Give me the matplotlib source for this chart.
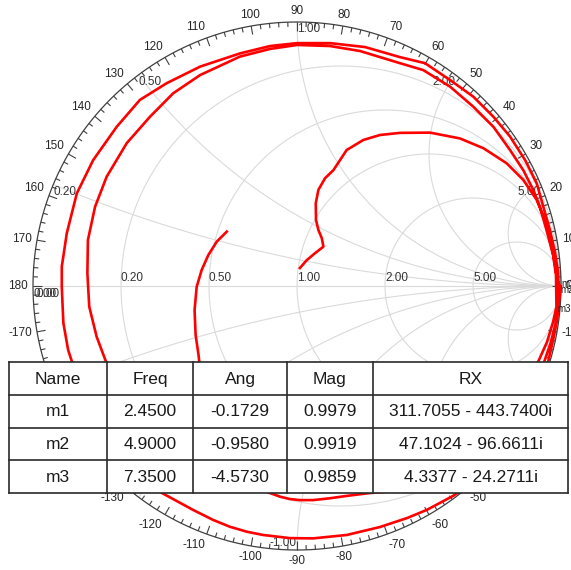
import numpy as np
import matplotlib.pyplot as plt
from matplotlib.patches import Rectangle
from matplotlib.collections import LineCollection

plt.rcParams["font.family"] = ["Liberation Sans", "DejaVu Sans"]

# Smith chart grid values
r_values = [0.2, 0.5, 1.0, 2.0, 5.0]
x_values = [0.2, 0.5, 1.0, 2.0, 5.0]

# S11 trace (reflection coefficient, re / im), split at the markers
sweep_start = [
    (0.011, 0.068), (0.037, 0.098), (0.068, 0.124), (0.100, 0.149), (0.094, 0.181),
    (0.081, 0.212), (0.072, 0.250), (0.071, 0.313), (0.081, 0.364), (0.106, 0.408),
    (0.138, 0.439), (0.188, 0.515), (0.251, 0.553), (0.314, 0.572), (0.390, 0.580),
    (0.504, 0.581), (0.617, 0.559), (0.706, 0.522), (0.794, 0.465), (0.857, 0.402),
    (0.908, 0.326), (0.939, 0.250), (0.962, 0.163), (0.977, 0.087), (0.985, 0.023),
]
sweep_loop2 = [
    (0.992, -0.053), (0.985, -0.129), (0.970, -0.205), (0.951, -0.288), (0.913, -0.413),
    (0.852, -0.538), (0.769, -0.652), (0.674, -0.742), (0.591, -0.795), (0.492, -0.848),
    (0.417, -0.879), (0.314, -0.913), (0.189, -0.943), (0.061, -0.956), (-0.027, -0.955),
    (-0.129, -0.943), (-0.189, -0.931), (-0.254, -0.912), (-0.318, -0.886), (-0.394, -0.848),
    (-0.462, -0.811), (-0.519, -0.780), (-0.614, -0.697), (-0.708, -0.591), (-0.784, -0.470),
    (-0.830, -0.375), (-0.852, -0.288), (-0.867, -0.242), (-0.885, -0.140), (-0.891, -0.004),
    (-0.891, 0.073), (-0.872, 0.200), (-0.834, 0.351), (-0.772, 0.477), (-0.683, 0.603),
    (-0.595, 0.705), (-0.494, 0.768), (-0.367, 0.831), (-0.216, 0.881), (-0.102, 0.909),
    (0.000, 0.920), (0.125, 0.920), (0.258, 0.905), (0.390, 0.867), (0.485, 0.844),
    (0.580, 0.780), (0.668, 0.717), (0.744, 0.641), (0.807, 0.566), (0.864, 0.477),
    (0.908, 0.389), (0.933, 0.300), (0.958, 0.212), (0.977, 0.129), (0.989, 0.053),
]
sweep_loop3 = [
    (0.992, -0.053), (0.981, -0.136), (0.962, -0.212), (0.936, -0.288), (0.883, -0.413),
    (0.799, -0.538), (0.693, -0.640), (0.561, -0.727), (0.428, -0.773), (0.277, -0.784),
    (0.189, -0.795), (0.125, -0.804), (0.061, -0.811), (0.011, -0.811), (-0.027, -0.807),
    (-0.064, -0.798), (-0.102, -0.784), (-0.216, -0.742), (-0.330, -0.697), (-0.462, -0.621),
    (-0.576, -0.527), (-0.663, -0.402), (-0.723, -0.288), (-0.759, -0.192), (-0.787, -0.078),
    (-0.794, 0.049), (-0.792, 0.174), (-0.765, 0.300), (-0.721, 0.414), (-0.645, 0.541),
    (-0.557, 0.641), (-0.469, 0.730), (-0.367, 0.799), (-0.216, 0.869), (-0.102, 0.898),
    (0.000, 0.913), (0.125, 0.909), (0.239, 0.890), (0.390, 0.844), (0.478, 0.818),
    (0.580, 0.755), (0.668, 0.679), (0.744, 0.603), (0.807, 0.515), (0.857, 0.439),
    (0.895, 0.364), (0.920, 0.300), (0.947, 0.205), (0.970, 0.117), (0.981, 0.042),
]
sweep_end = [
    (0.970, -0.136), (0.947, -0.212), (0.913, -0.288), (0.845, -0.402), (0.750, -0.508),
    (0.617, -0.610), (0.466, -0.689), (0.295, -0.735), (0.125, -0.758), (-0.027, -0.754),
    (-0.159, -0.716), (-0.261, -0.640), (-0.322, -0.527), (-0.352, -0.413), (-0.367, -0.318),
    (-0.373, -0.261), (-0.384, -0.186), (-0.388, -0.091), (-0.380, -0.003), (-0.361, 0.061),
    (-0.336, 0.117), (-0.304, 0.168), (-0.266, 0.206),
]

# marker table
marker_names = ["m1", "m2", "m3"]
marker_freq = [2.45, 4.90, 7.35]
marker_ang = [-0.1729, -0.9580, -4.5730]
marker_mag = [0.9979, 0.9919, 0.9859]
marker_rx_re = [311.7055, 47.1024, 4.3377]
marker_rx_im = [-443.7400, -96.6611, -24.2711]

angle_labels = list(range(-170, 190, 10))

GRID = "#dadada"
RED = "#ff0000"

W, H = 571, 570
CX, CY, R = 297.0, 286.0, 264.0
tx0, tx1, ty0, ty1 = 9, 568, 362, 493   # table box, pixels from top-left


def under_table(gx, gy):
    px, py = CX + R * gx, CY - R * gy
    return tx0 < px < tx1 and ty0 < py < ty1


fig = plt.figure(figsize=(W / 100, H / 100), dpi=100)
ax = fig.add_axes([0, 0, 1, 1])
ax.set_xlim(-CX / R, (W - CX) / R)
ax.set_ylim((CY - H) / R, CY / R)
ax.axis("off")

t = np.linspace(0, 2 * np.pi, 721)

# constant resistance circles
for r in r_values:
    c = r / (1 + r)
    rad = 1 / (1 + r)
    ax.plot(c + rad * np.cos(t), rad * np.sin(t), color=GRID, lw=0.8, zorder=1)

# constant reactance arcs
rr = np.concatenate([[0], np.geomspace(1e-3, 1e4, 600)])
for x in x_values:
    for s in (1, -1):
        z = rr + 1j * s * x
        g = (z - 1) / (z + 1)
        ax.plot(g.real, g.imag, color=GRID, lw=0.8, zorder=1)
ax.plot([-1, 1], [0, 0], color=GRID, lw=0.8, zorder=1)

# outer ring and angle ticks
ax.plot(np.cos(t), np.sin(t), color="#404040", lw=0.9, zorder=3)
segs = []
for d in range(-178, 182, 2):
    a = np.radians(d)
    ln = 0.033 if d % 10 == 0 else 0.018
    segs.append([(np.cos(a), np.sin(a)), ((1 - ln) * np.cos(a), (1 - ln) * np.sin(a))])
ax.add_collection(LineCollection(segs, colors="#404040", linewidths=0.8, zorder=3))

for d in angle_labels:
    a = np.radians(d)
    c, s = np.cos(a), np.sin(a)
    if under_table(1.06 * c, 1.06 * s):
        continue
    ha = "left" if c > 0.2 else ("right" if c < -0.2 else "center")
    va = "bottom" if s > 0.2 else ("top" if s < -0.2 else "center")
    ax.annotate(str(d), (c, s), xytext=(3.5 * c, 3.5 * s), textcoords="offset points",
                ha=ha, va=va, fontsize=8.5, color="#262626", zorder=4)

# grid value labels
for r in r_values:
    g = (r - 1) / (r + 1)
    ax.text(g, 0.008, f"{r:.2f}", ha="left", va="bottom", fontsize=8.5, color="#333333", zorder=4)
for dx in (0.0, 0.012):
    ax.text(-1 + dx, -0.008, "0.00", ha="left", va="top", fontsize=8.5, color="#333333", zorder=4)
for x in x_values:
    g = (1j * x - 1) / (1j * x + 1)
    ax.text(g.real, g.imag - 0.005, f"{x:.2f}", ha="right" if g.real > 0.01 else "left",
            va="top", fontsize=8.5, color="#333333", zorder=4)
    if not under_table(g.real, -g.imag + 0.03):
        ax.text(g.real, -g.imag + 0.005, f"{-x:.2f}", ha="right" if g.real > -0.01 else "left",
                va="bottom", fontsize=8.5, color="#333333", zorder=4)

# trace through the markers
mk = [m * np.exp(1j * np.radians(a)) for m, a in zip(marker_mag, marker_ang)]
pts = (sweep_start + [(mk[0].real, mk[0].imag)] + sweep_loop2 + [(mk[1].real, mk[1].imag)]
       + sweep_loop3 + [(mk[2].real, mk[2].imag)] + sweep_end)
pts = np.array(pts)
ax.plot(pts[:, 0], pts[:, 1], color=RED, lw=1.9, solid_joinstyle="round", zorder=5)

for name, g, dy in zip(marker_names, mk, (0.012, 0.0, -0.01)):
    ax.text(g.real + 0.005, g.imag + dy, name, ha="left", va="center", fontsize=7,
            color="#222222", zorder=6)

# marker table
tax = fig.add_axes([tx0 / W, 1 - ty1 / H, (tx1 - tx0) / W, (ty1 - ty0) / H], zorder=10)
tax.set_xlim(0, tx1 - tx0)
tax.set_ylim(4, 0)
tax.axis("off")
tax.add_patch(Rectangle((0, 0), tx1 - tx0, 4, facecolor="white", edgecolor="none"))

col_edges = [0, 98, 184, 278, 364, tx1 - tx0]
header = ["Name", "Freq", "Ang", "Mag", "RX"]
rows = [header]
for i in range(3):
    rows.append([marker_names[i], f"{marker_freq[i]:.4f}", f"{marker_ang[i]:.4f}",
                 f"{marker_mag[i]:.4f}",
                 f"{marker_rx_re[i]:.4f} - {abs(marker_rx_im[i]):.4f}i"])
for ri, row in enumerate(rows):
    for ci, txt in enumerate(row):
        tax.text((col_edges[ci] + col_edges[ci + 1]) / 2, ri + 0.52, txt, ha="center",
                 va="center", fontsize=12.5, color="#1a1a1a")
for xe in col_edges:
    tax.plot([xe, xe], [0, 4], color="#2a2a2a", lw=1.2, clip_on=False)
for ye in range(5):
    tax.plot([0, tx1 - tx0], [ye, ye], color="#2a2a2a", lw=1.2, clip_on=False)

fig.savefig("out.png", dpi=100)
